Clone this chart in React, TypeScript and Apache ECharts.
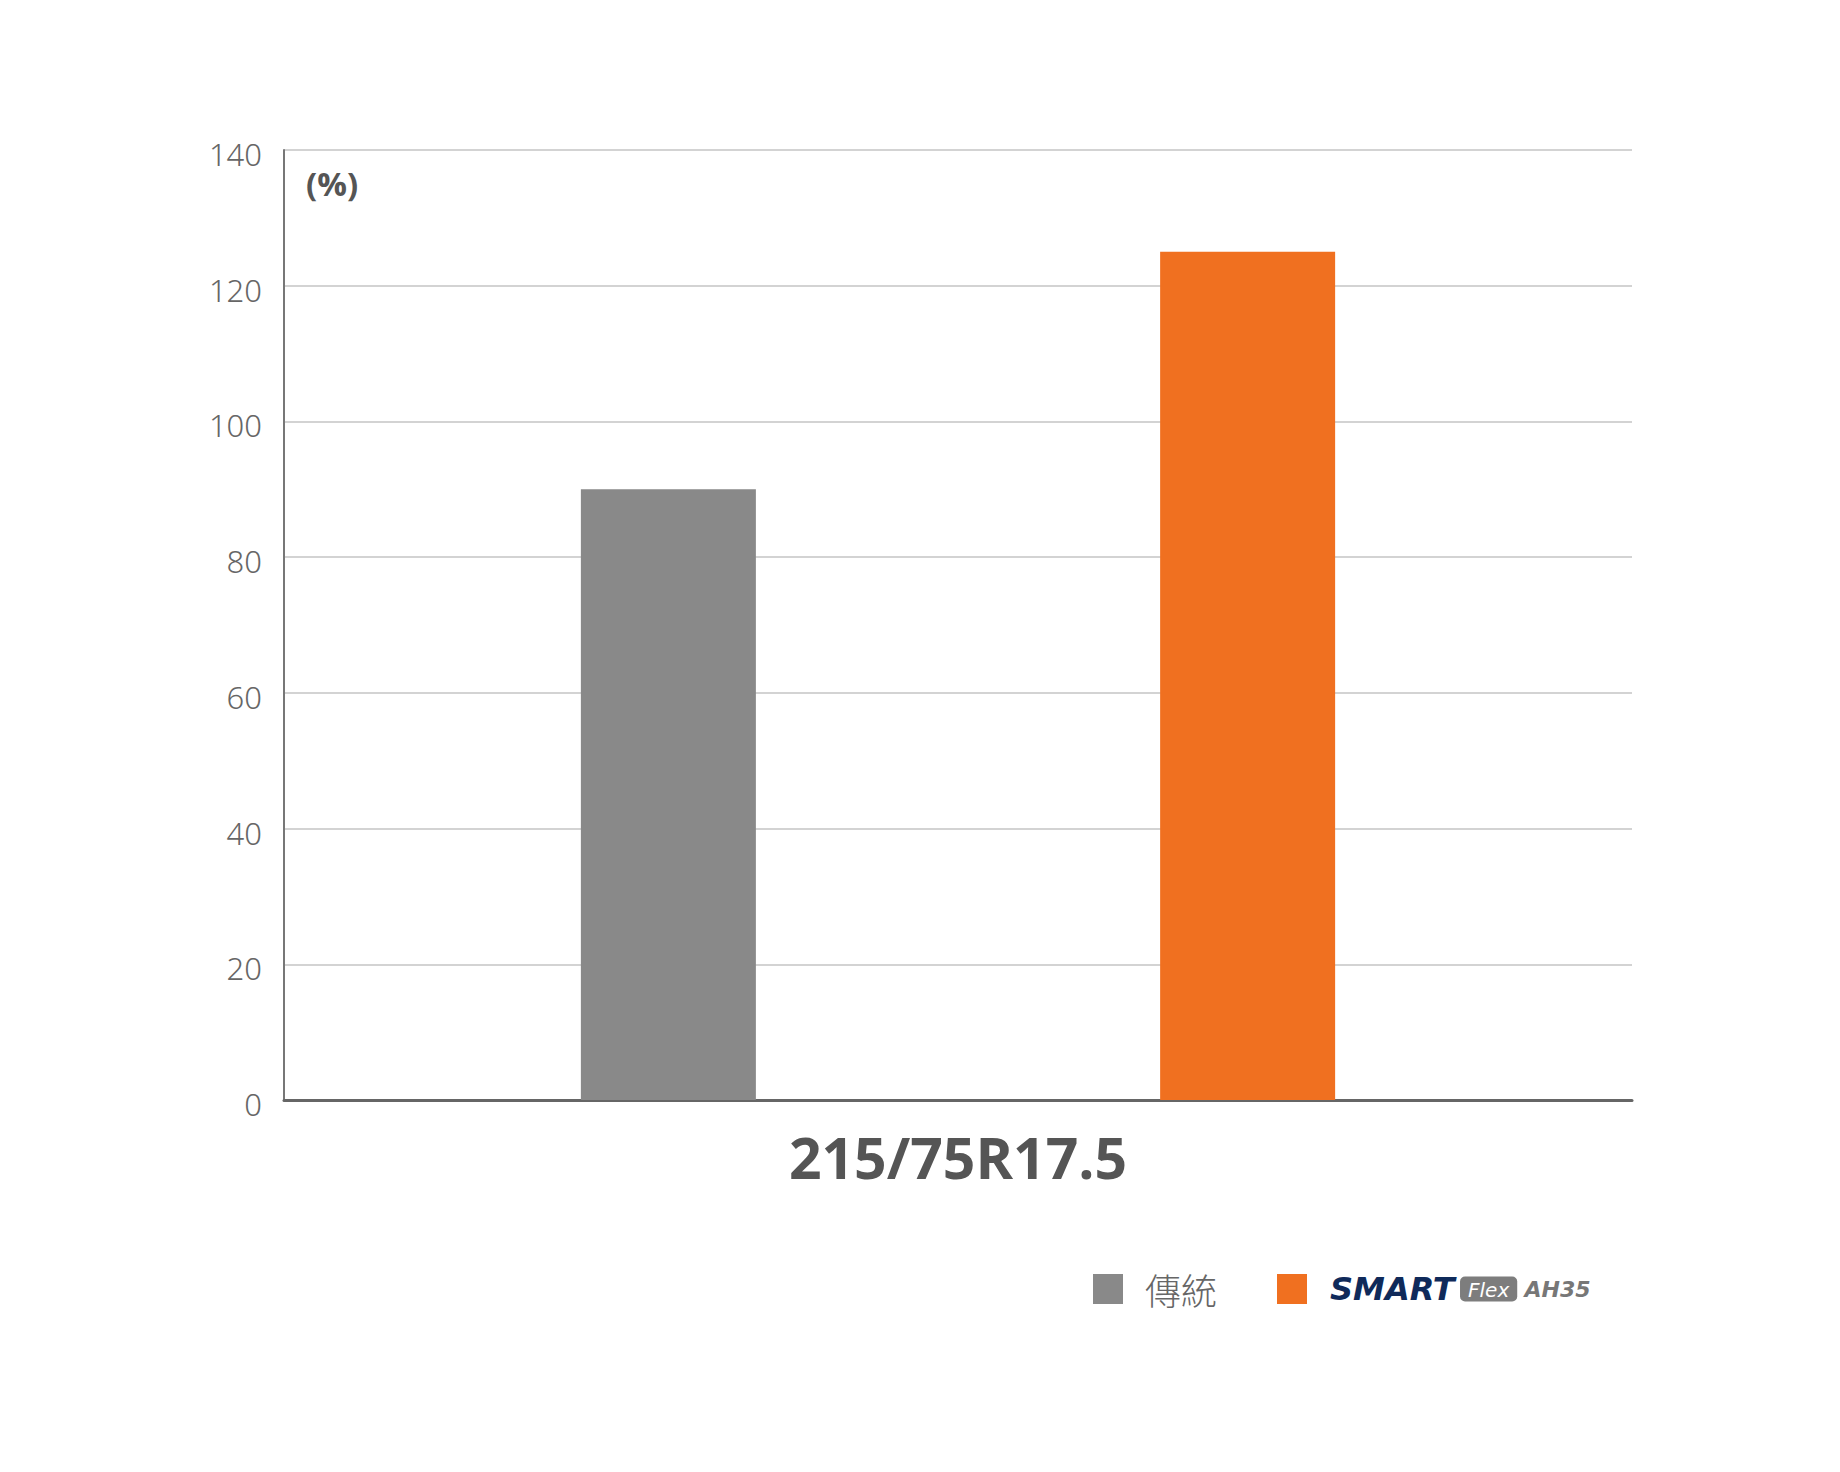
import { useEffect, useRef } from "react";
import * as echarts from "echarts";

const categories = ["215/75R17.5"];
const seriesNames = ["傳統", "SMART Flex AH35"];
const traditionalValues = [90];
const smartFlexValues = [125];
const yTicks = { min: 0, max: 140, interval: 20 };

export default function App() {
  const ref = useRef<HTMLDivElement>(null);

  useEffect(() => {
    document.body.style.margin = "0";
    if (!ref.current) return;
    const chart = echarts.init(ref.current, undefined, { renderer: "svg" });

    chart.setOption({
      animation: false,
      backgroundColor: "#ffffff",
      grid: { left: 284, right: 208, top: 150, bottom: 372 },
      legend: {
        left: 1088,
        top: 1266,
        icon: "rect",
        itemWidth: 30,
        itemHeight: 30,
        itemGap: 60,
        selectedMode: false,
        data: seriesNames,
        formatter: (name: string) => {
          if (name === seriesNames[1]) return "{smart|SMART} {flex|Flex} {ah|AH35}";
          return `{trad|${name}}`;
        },
        textStyle: {
          padding: [0, 0, 0, 17],
          rich: {
            trad: {
              fontSize: 36,
              color: "#666666",
              fontFamily: "Noto Sans CJK TC",
              fontWeight: 300,
            },
            smart: {
              fontSize: 32,
              color: "#0f2a5a",
              fontStyle: "italic",
              fontWeight: 900,
              fontFamily: "DejaVu Sans",
              padding: [0, 2, 0, 1],
            },
            flex: {
              fontSize: 20,
              color: "#ffffff",
              backgroundColor: "#7d7d7d",
              borderRadius: 5,
              fontStyle: "italic",
              fontFamily: "DejaVu Sans",
              padding: [3, 8, 2, 8],
            },
            ah: {
              fontSize: 22,
              color: "#777777",
              fontStyle: "italic",
              fontWeight: "bold",
              fontFamily: "DejaVu Sans",
              padding: [0, 0, 0, 4],
            },
          },
        },
      },
      xAxis: {
        type: "category",
        data: categories,
        axisLine: { show: true, lineStyle: { color: "#666666", width: 3 } },
        axisTick: { show: false },
        axisLabel: {
          margin: 28,
          fontSize: 57,
          fontWeight: "bold",
          color: "#555555",
          fontFamily: "Open Sans",
        },
      },
      yAxis: {
        type: "value",
        min: yTicks.min,
        max: yTicks.max,
        interval: yTicks.interval,
        axisLine: { show: true, lineStyle: { color: "#777777", width: 2 } },
        axisTick: { show: false },
        axisLabel: {
          margin: 22,
          formatter: "{v|{value}}",
          rich: {
            v: {
              fontSize: 31,
              color: "#666666",
              fontFamily: "Noto Sans",
              fontWeight: 300,
              padding: [8, 0, 0, 0],
            },
          },
        },
        splitLine: { lineStyle: { color: "#c4c4c4", width: 1.5 } },
      },
      graphic: [
        {
          type: "text",
          left: 306,
          top: 167,
          style: {
            text: "(%)",
            fontSize: 33,
            fontWeight: "bold",
            fill: "#555555",
            fontFamily: "Open Sans",
          },
        },
      ],
      series: [
        {
          name: seriesNames[0],
          type: "bar",
          data: traditionalValues,
          barWidth: 175,
          barGap: "231%",
          itemStyle: { color: "#898989" },
        },
        {
          name: seriesNames[1],
          type: "bar",
          data: smartFlexValues,
          barWidth: 175,
          itemStyle: { color: "#f07020" },
        },
      ],
    });

    return () => chart.dispose();
  }, []);

  return <div ref={ref} style={{ width: 1840, height: 1472 }} />;
}
